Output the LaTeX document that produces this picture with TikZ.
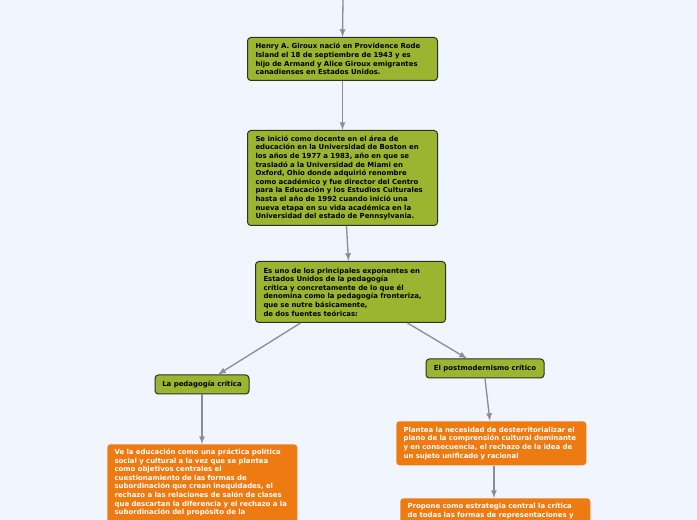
\documentclass[tikz,border=0pt]{standalone}
\usepackage{fontspec}
\setmainfont{DejaVu Sans}
\usepackage{xcolor}
\definecolor{paper}{HTML}{F1F5FE}
\definecolor{leaf}{HTML}{9CB42F}
\definecolor{rim}{HTML}{2F3128}
\definecolor{tangerine}{HTML}{EE7A12}
\definecolor{wire}{HTML}{8B8E97}

\begin{document}
\begin{tikzpicture}[>=latex,x=0.75pt,y=-0.75pt,
  txt/.style={font=\bfseries\fontsize{5.2}{6.45}\selectfont},
  greenbox/.style={txt,draw=rim,fill=leaf,line width=0.75pt,rounded corners=2.5pt,
    anchor=north west,align=left,inner xsep=6pt,inner ysep=3pt,text width=130.5pt},
  greentag/.style={txt,draw=rim,fill=leaf,line width=0.75pt,rounded corners=2.5pt,
    align=center,inner sep=2pt,minimum height=14.25pt},
  orangebox/.style={txt,text=white,fill=tangerine,rounded corners=2.5pt,
    anchor=north west,align=left,inner xsep=5.5pt,inner ysep=3.5pt,text width=131.5pt},
  link/.style={->,draw=wire,line width=1pt}]
          \fill[paper] (0,0) rectangle (697,520);
          \useasboundingbox (0,0) rectangle (697,520);
          % main column
          \coordinate (top) at (343,0);
          \node[greenbox,minimum height=32.25pt] (giroux) at (247,37)
            {Henry A. Giroux nació en Providence Rode\\Island el 18 de septiembre de 1943 y es\\hijo de Armand y Alice Giroux emigrantes\\canadienses en Estados Unidos.};
          \node[greenbox,minimum height=71.25pt] (docente) at (247,130)
            {Se inició como docente en el área de\\educación en la Universidad de Boston en\\los años de 1977 a 1983, año en que se\\trasladó a la Universidad de Miami en\\Oxford, Ohio donde adquirió renombre\\como académico y fue director del Centro\\para la Educación y los Estudios Culturales\\hasta el año de 1992 cuando inició una\\nueva etapa en su vida académica en la\\Universidad del estado de Pennsylvania.};
          \node[greenbox,minimum height=45.75pt] (fuentes) at (255,261)
            {Es uno de los principales exponentes en\\Estados Unidos de la pedagogía\\crítica y concretamente de lo que él\\denomina como la pedagogía fronteriza,\\que se nutre básicamente,\\de dos fuentes teóricas:};
          % two sources
          \node[greentag,minimum width=70.5pt] (critica) at (202,384.5) {La pedagogía crítica};
          \node[greentag,minimum width=88.5pt] (postmod) at (485,368.5) {El postmodernismo crítico};
          \node[orangebox] (politica) at (107,444)
            {Ve la educación como una práctica política\\social y cultural a la vez que se plantea\\como objetivos centrales el\\cuestionamiento de las formas de\\subordinación que crean inequidades, el\\rechazo a las relaciones de salón de clases\\que descartan la diferencia y el rechazo a la\\subordinación del propósito de la\\\phantom{x}\\\phantom{x}};
          \node[orangebox,minimum height=33pt] (desterr) at (396,421)
            {Plantea la necesidad de desterritorializar el\\plano de la comprensión cultural dominante\\y en consecuencia, el rechazo de la idea de\\un sujeto unificado y racional};
          \node[orangebox] (propone) at (400,498)
            {Propone como estrategia central la crítica\\de todas las formas de representaciones y\\\phantom{x}\\\phantom{x}};
          % connectors
          \draw[link] (top) -- (giroux.north);
          \draw[link] (giroux.south) -- (docente.north);
          \draw[link] ([xshift=3pt]docente.south) -- ([xshift=-1.5pt]fuentes.north);
          \draw[link] ([xshift=-37.5pt]fuentes.south) -- ([xshift=12pt]critica.north);
          \draw[link] ([xshift=42.75pt]fuentes.south) -- ([xshift=-13.5pt]postmod.north);
          \draw[link] (critica.south) -- (critica.south |- politica.north);
          \draw[link] (postmod.south) -- ([xshift=-1pt]desterr.north);
          \draw[link] ([xshift=2pt]desterr.south) -- ([xshift=-1pt]propone.north);
        \end{tikzpicture}
\end{document}
